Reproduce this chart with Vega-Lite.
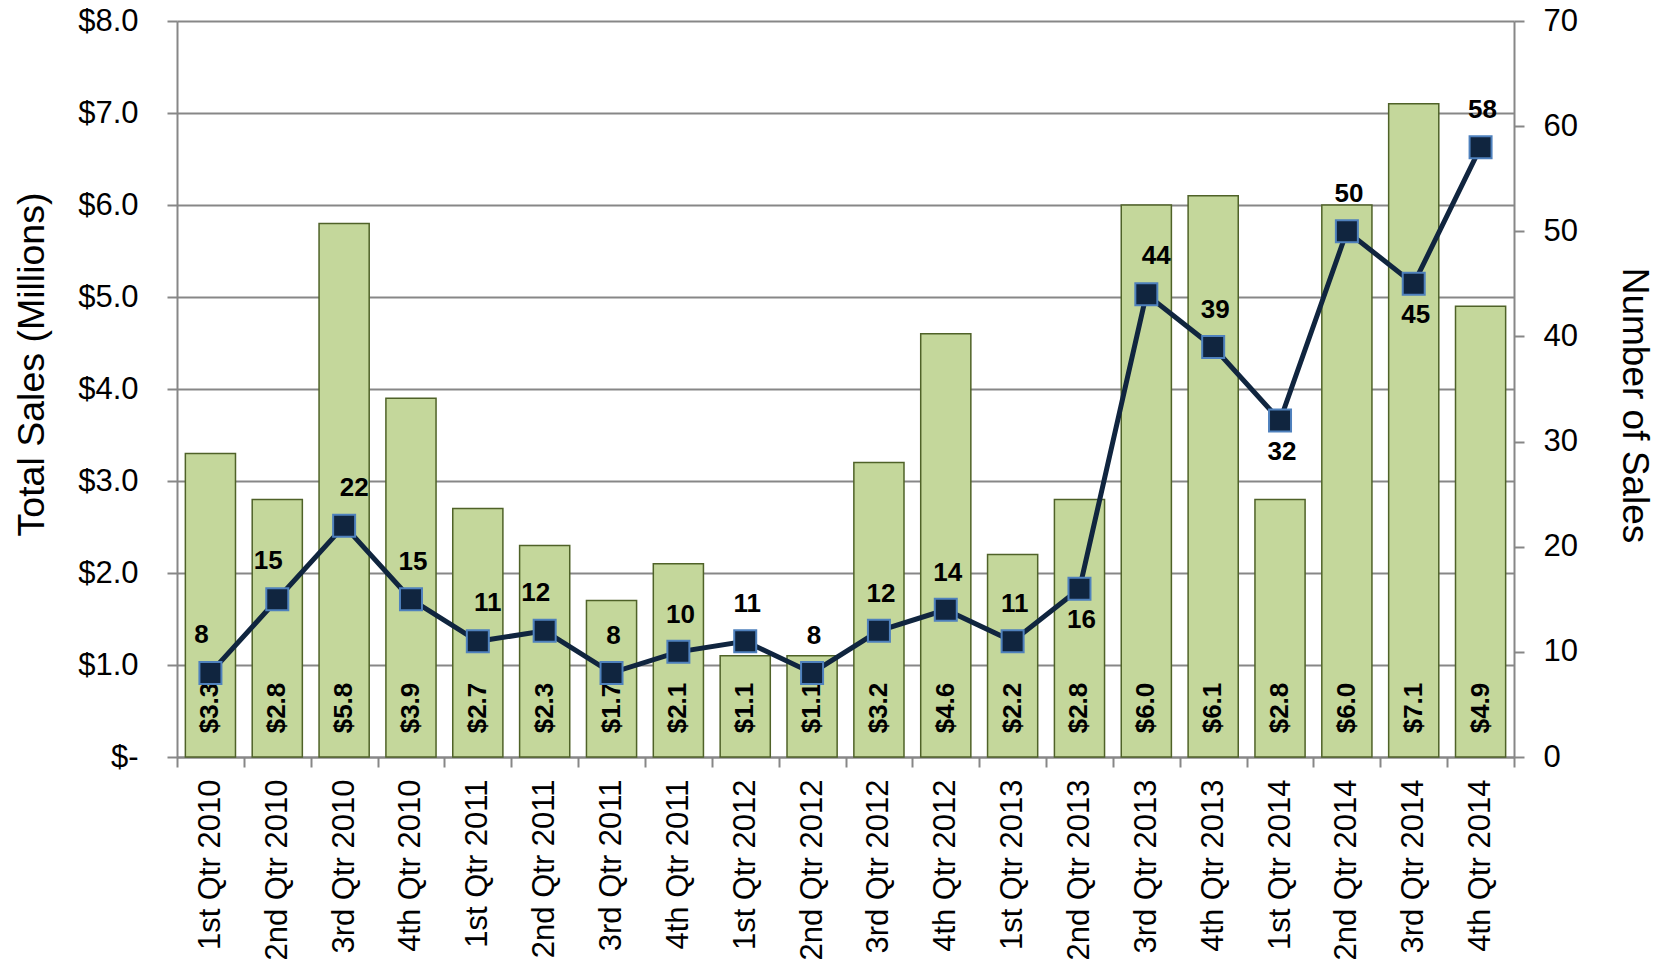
{
  "$schema": "https://vega.github.io/schema/vega-lite/v6.json",
  "width": 1337,
  "height": 736,
  "autosize": {"type": "none"},
  "padding": {"left": 177, "top": 21, "right": 155, "bottom": 210},
  "background": "white",
  "config": {
    "view": {"stroke": null},
    "font": "Liberation Sans",
    "axisX": {
      "domain": true, "domainColor": "#878787", "domainWidth": 2,
      "ticks": true, "tickBand": "extent", "tickSize": 10, "tickColor": "#878787", "tickWidth": 2,
      "grid": false,
      "labelAngle": -90, "labelAlign": "right", "labelBaseline": "middle",
      "labelFont": "Liberation Sans", "labelFontSize": 31, "labelColor": "#000000",
      "labelPadding": 12, "labelOverlap": false, "labelLimit": 400
    },
    "axisLeft": {
      "titleFont": "Liberation Sans", "titleFontSize": 37.5, "titleFontWeight": "normal", "titleColor": "#000000",
      "titlePadding": 26, "titleY": 343,
      "labelFont": "Liberation Sans", "labelFontSize": 31, "labelColor": "#000000",
      "labelPadding": 29,
      "domain": true, "domainColor": "#878787", "domainWidth": 2,
      "ticks": true, "tickSize": 10, "tickColor": "#878787", "tickWidth": 2,
      "grid": true, "gridColor": "#878787", "gridWidth": 2
    },
    "axisRight": {
      "titleFont": "Liberation Sans", "titleFontSize": 37, "titleFontWeight": "normal", "titleColor": "#000000",
      "titlePadding": 37, "titleY": 384,
      "labelFont": "Liberation Sans", "labelFontSize": 31, "labelColor": "#000000",
      "labelPadding": 19,
      "domain": true, "domainColor": "#878787", "domainWidth": 2,
      "ticks": true, "tickSize": 10, "tickColor": "#878787", "tickWidth": 2,
      "grid": false
    }
  },
  "data": {
    "values": [
      {"Quarter": "1st Qtr 2010", "Sales": 3.3, "Count": 8},
      {"Quarter": "2nd Qtr 2010", "Sales": 2.8, "Count": 15},
      {"Quarter": "3rd Qtr 2010", "Sales": 5.8, "Count": 22},
      {"Quarter": "4th Qtr 2010", "Sales": 3.9, "Count": 15},
      {"Quarter": "1st Qtr 2011", "Sales": 2.7, "Count": 11},
      {"Quarter": "2nd Qtr 2011", "Sales": 2.3, "Count": 12},
      {"Quarter": "3rd Qtr 2011", "Sales": 1.7, "Count": 8},
      {"Quarter": "4th Qtr 2011", "Sales": 2.1, "Count": 10},
      {"Quarter": "1st Qtr 2012", "Sales": 1.1, "Count": 11},
      {"Quarter": "2nd Qtr 2012", "Sales": 1.1, "Count": 8},
      {"Quarter": "3rd Qtr 2012", "Sales": 3.2, "Count": 12},
      {"Quarter": "4th Qtr 2012", "Sales": 4.6, "Count": 14},
      {"Quarter": "1st Qtr 2013", "Sales": 2.2, "Count": 11},
      {"Quarter": "2nd Qtr 2013", "Sales": 2.8, "Count": 16},
      {"Quarter": "3rd Qtr 2013", "Sales": 6.0, "Count": 44},
      {"Quarter": "4th Qtr 2013", "Sales": 6.1, "Count": 39},
      {"Quarter": "1st Qtr 2014", "Sales": 2.8, "Count": 32},
      {"Quarter": "2nd Qtr 2014", "Sales": 6.0, "Count": 50},
      {"Quarter": "3rd Qtr 2014", "Sales": 7.1, "Count": 45},
      {"Quarter": "4th Qtr 2014", "Sales": 4.9, "Count": 58}
    ]
  },
  "layer": [
    {
      "layer": [
        {
          "mark": {"type": "bar", "width": {"band": 0.75}, "fill": "#c4d79b", "stroke": "#4f6228", "strokeWidth": 1.5},
          "encoding": {
            "x": {
              "field": "Quarter", "type": "nominal", "sort": null, "title": null,
              "scale": {"paddingInner": 0, "paddingOuter": 0}
            },
            "y": {
              "field": "Sales", "type": "quantitative", "title": "Total Sales (Millions)",
              "scale": {"domain": [0, 8], "nice": false, "zero": true},
              "axis": {
                "values": [0, 1, 2, 3, 4, 5, 6, 7, 8],
                "labelExpr": "datum.value == 0 ? '$-' : '$' + format(datum.value, '.1f')"
              }
            }
          }
        },
        {
          "mark": {"type": "text", "angle": 270, "align": "center", "baseline": "middle", "font": "Liberation Sans", "fontSize": 26, "fontWeight": "bold", "color": "#000000", "yOffset": -49},
          "encoding": {
            "x": {"field": "Quarter", "type": "nominal", "sort": null, "title": null},
            "y": {"datum": 0, "type": "quantitative", "title": "Total Sales (Millions)"},
            "text": {"field": "Sales", "type": "quantitative", "format": "$.1f"}
          }
        }
      ]
    },
    {
      "layer": [
        {
          "mark": {"type": "line", "color": "#10253f", "strokeWidth": 5},
          "encoding": {
            "x": {"field": "Quarter", "type": "nominal", "sort": null, "title": null},
            "y": {
              "field": "Count", "type": "quantitative", "title": "Number of Sales",
              "scale": {"domain": [0, 70], "nice": false, "zero": true},
              "axis": {"orient": "right", "values": [0, 10, 20, 30, 40, 50, 60, 70], "format": "d"}
            }
          }
        },
        {
          "mark": {"type": "point", "shape": "square", "size": 484, "filled": true, "fill": "#10253f", "stroke": "#4f81bd", "strokeWidth": 2, "opacity": 1},
          "encoding": {
            "x": {"field": "Quarter", "type": "nominal", "sort": null, "title": null},
            "y": {"field": "Count", "type": "quantitative", "title": "Number of Sales"}
          }
        },
        {
          "transform": [{"filter": {"field": "Quarter", "oneOf": ["4th Qtr 2010", "3rd Qtr 2011", "4th Qtr 2011", "1st Qtr 2012", "2nd Qtr 2012", "3rd Qtr 2012", "4th Qtr 2012", "1st Qtr 2013", "4th Qtr 2013", "2nd Qtr 2014", "4th Qtr 2014"]}}],
          "mark": {"type": "text", "align": "center", "baseline": "middle", "font": "Liberation Sans", "fontSize": 26, "fontWeight": "bold", "color": "#000000", "dy": -37, "dx": 2},
          "encoding": {
            "x": {"field": "Quarter", "type": "nominal", "sort": null, "title": null},
            "y": {"field": "Count", "type": "quantitative", "title": "Number of Sales"},
            "text": {"field": "Count", "type": "quantitative"}
          }
        },
        {
          "transform": [{"filter": {"field": "Quarter", "oneOf": ["1st Qtr 2010", "2nd Qtr 2010", "2nd Qtr 2011"]}}],
          "mark": {"type": "text", "align": "center", "baseline": "middle", "font": "Liberation Sans", "fontSize": 26, "fontWeight": "bold", "color": "#000000", "dy": -38, "dx": -9},
          "encoding": {
            "x": {"field": "Quarter", "type": "nominal", "sort": null, "title": null},
            "y": {"field": "Count", "type": "quantitative", "title": "Number of Sales"},
            "text": {"field": "Count", "type": "quantitative"}
          }
        },
        {
          "transform": [{"filter": {"field": "Quarter", "oneOf": ["3rd Qtr 2010", "1st Qtr 2011", "3rd Qtr 2013"]}}],
          "mark": {"type": "text", "align": "center", "baseline": "middle", "font": "Liberation Sans", "fontSize": 26, "fontWeight": "bold", "color": "#000000", "dy": -38, "dx": 10},
          "encoding": {
            "x": {"field": "Quarter", "type": "nominal", "sort": null, "title": null},
            "y": {"field": "Count", "type": "quantitative", "title": "Number of Sales"},
            "text": {"field": "Count", "type": "quantitative"}
          }
        },
        {
          "transform": [{"filter": {"field": "Quarter", "oneOf": ["2nd Qtr 2013", "1st Qtr 2014", "3rd Qtr 2014"]}}],
          "mark": {"type": "text", "align": "center", "baseline": "middle", "font": "Liberation Sans", "fontSize": 26, "fontWeight": "bold", "color": "#000000", "dy": 31, "dx": 2},
          "encoding": {
            "x": {"field": "Quarter", "type": "nominal", "sort": null, "title": null},
            "y": {"field": "Count", "type": "quantitative", "title": "Number of Sales"},
            "text": {"field": "Count", "type": "quantitative"}
          }
        }
      ]
    }
  ],
  "resolve": {"scale": {"y": "independent"}, "axis": {"y": "independent"}}
}
